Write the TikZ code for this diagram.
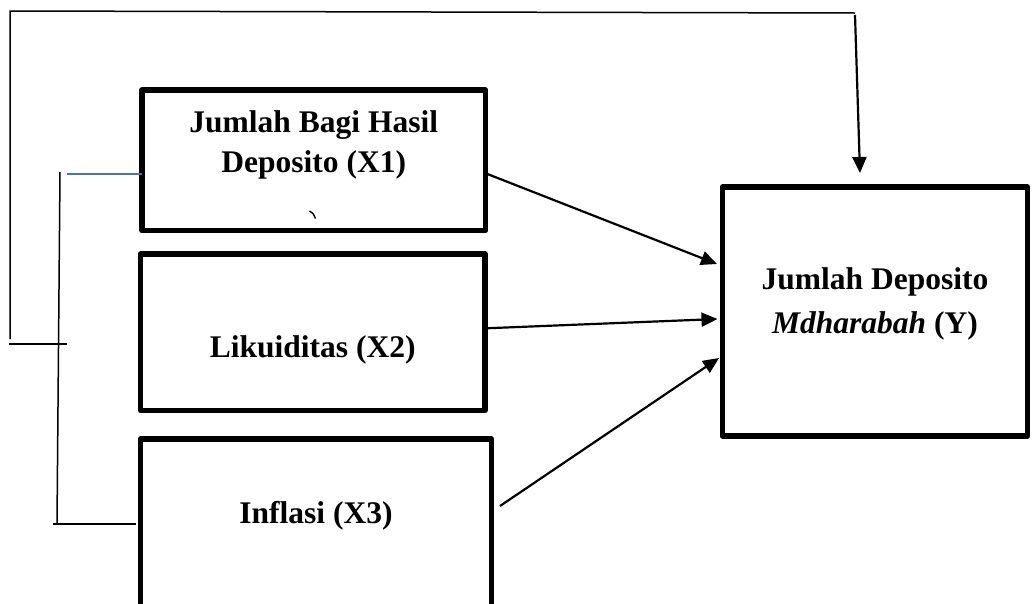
\documentclass[tikz,border=0pt]{standalone}
\usepackage{fontspec}
\setmainfont{Liberation Serif}
\usetikzlibrary{arrows.meta,positioning}
\definecolor{lineblue}{HTML}{4472C4}

\begin{document}
\begin{tikzpicture}[
    x=1pt, y=-1pt,
    box/.style={rectangle, draw, line width=5.5pt, inner sep=0pt, outer sep=0pt, anchor=north west, line join=round},
    lbl/.style={inner sep=0pt, align=center, font=\fontsize{31.5}{40}\selectfont\bfseries},
    arrow/.style={-{Triangle[length=16pt, width=14pt]}, line width=2.2pt},
    link/.style={line width=1.5pt}
]
\useasboundingbox (0,0) rectangle (1036,603);
\clip (0,0) rectangle (1036,603);

% Independent variables
\node[box, minimum width=343.5pt, minimum height=140.5pt] (x1) at (142,90) {};
\node[box, minimum width=344.5pt, minimum height=156.5pt] (x2) at (140.5,254) {};
\node[box, minimum width=351pt, minimum height=201pt] (x3) at (140.5,439) {};

% Dependent variable
\node[box, minimum width=305pt, minimum height=249pt] (y) at (722.5,187) {};

% Texts
\node[lbl, anchor=north] (tx1) at ([yshift=-20.5pt]x1.north) {Jumlah Bagi Hasil\\Deposito (X1)};
\node[lbl, anchor=base] (tx2) at ([yshift=-103pt]x2.north) {Likuiditas (X2)};
\node[lbl, anchor=base] (tx3) at ([yshift=-84pt]x3.north) {Inflasi (X3)};
\node[lbl, anchor=north, font=\fontsize{31.5}{43.5}\selectfont\bfseries] (ty) at ([yshift=-80.5pt]y.north) {Jumlah Deposito\\\textit{Mdharabah} (Y)};

% stray mark in X1
\draw[line width=1.4pt] (309.5,211) .. controls (313,213) .. (315.5,218.5);

% Arrows - partial effects
\draw[arrow] ([yshift=-13pt]x1.east) -- ([xshift=-5.5pt, yshift=47.5pt]y.west);
\draw[arrow] ([xshift=2pt, yshift=4pt]x2.east) -- ([xshift=-5pt, yshift=-7.5pt]y.west);
\draw[arrow] ([xshift=8.5pt, yshift=33.5pt]x3.east) -- ([xshift=-3.5pt, yshift=-46.5pt]y.west);

% Simultaneous effect
\coordinate (lbot) at (10,339);
\coordinate (ltop) at (10,11);
\coordinate (rtop) at (855,13);
\draw[link] (lbot) -- (ltop) -- (rtop);
\draw[arrow] ([yshift=-2pt]rtop) -- ([xshift=-15pt, yshift=14pt]y.north);
\coordinate (ltick) at (9,344);
\draw[link] (ltick) -- ++(58,0);

% Bracket of X1 and X3
\coordinate (btop) at (60,172);
\coordinate (bbot) at (57,524);
\draw[link] (btop) -- (bbot);
\draw[link] ([xshift=-4pt]bbot) -- ([xshift=-4.5pt]bbot -| x3.west);
\coordinate (bluestart) at (67,174);
\draw[link, lineblue] (bluestart) -- (bluestart -| x1.west);

\end{tikzpicture}
\end{document}
